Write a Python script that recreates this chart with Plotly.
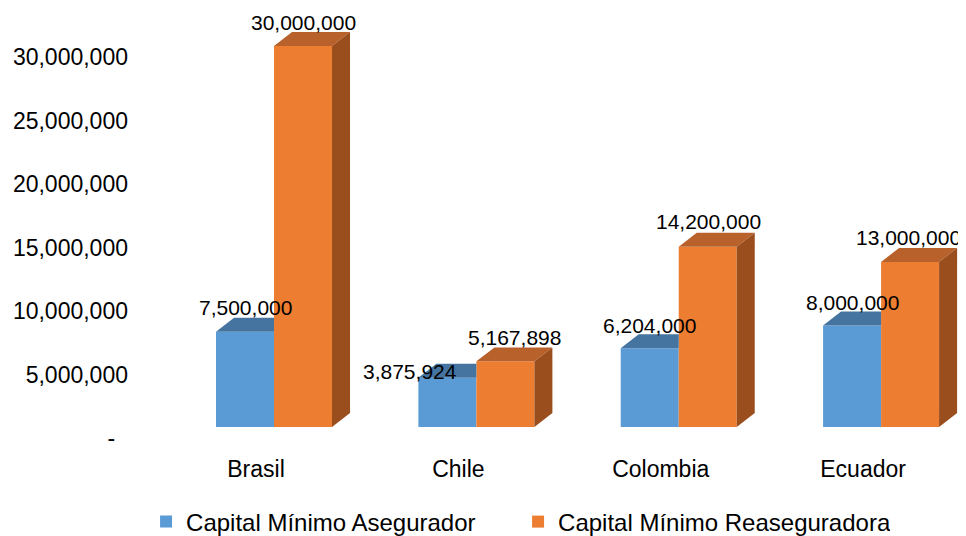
import plotly.graph_objects as go

# ---- data ----
countries = ["Brasil", "Chile", "Colombia", "Ecuador"]
asegurador = [7500000, 3875924, 6204000, 8000000]
reaseguradora = [30000000, 5167898, 14200000, 13000000]
series_names = ["Capital Mínimo Asegurador", "Capital Mínimo Reaseguradora"]
y_tickvals = [0, 5000000, 10000000, 15000000, 20000000, 25000000, 30000000]
y_ticktext = ["-\u00a0\u00a0", "5,000,000", "10,000,000", "15,000,000",
              "20,000,000", "25,000,000", "30,000,000"]

# ---- styling ----
BLUE, BLUE_TOP = "#5B9BD5", "#44749F"
ORANGE, ORANGE_TOP, ORANGE_SIDE = "#ED7D31", "#B8612A", "#9A4E1E"
FONT = "Liberation Sans, Arial, sans-serif"
BARGAP = 0.4267
HALF = (1 - BARGAP) / 2          # width of one bar in category units
DX = 0.089                       # depth offset (category units)
DY = 1100000                     # depth offset (value units)

xpos = list(range(len(countries)))

fig = go.Figure()
fig.add_trace(go.Bar(x=xpos, y=asegurador, name=series_names[0],
                     marker=dict(color=BLUE, line=dict(width=0)), hoverinfo="skip"))
fig.add_trace(go.Bar(x=xpos, y=reaseguradora, name=series_names[1],
                     marker=dict(color=ORANGE, line=dict(width=0)), hoverinfo="skip"))

def poly(xs, ys, color):
    fig.add_trace(go.Scatter(x=xs + [xs[0]], y=ys + [ys[0]], mode="lines",
                             line=dict(width=0, color=color), fill="toself",
                             fillcolor=color, showlegend=False, hoverinfo="skip"))

for i, (a, r) in enumerate(zip(asegurador, reaseguradora)):
    bl = i - HALF            # blue left
    mid = i                  # boundary between bars
    orr = i + HALF           # orange right
    # blue top face (clipped at orange front)
    poly([bl, mid, mid, bl + DX], [a, a, a + DY, a + DY], BLUE_TOP)
    # orange top face
    poly([mid, orr, orr + DX, mid + DX], [r, r, r + DY, r + DY], ORANGE_TOP)
    # orange side face
    poly([orr, orr, orr + DX, orr + DX], [0, r, r + DY, DY], ORANGE_SIDE)

# data labels
blue_shift = [(0, 24), (-37, 6), (0, 23), (0, 23)]
orange_shift = [(0, 24), (9, 24), (1, 25), (-2, 24)]
for i, (a, r) in enumerate(zip(asegurador, reaseguradora)):
    for val, off, sh in ((a, -HALF / 2, blue_shift[i]), (r, HALF / 2, orange_shift[i])):
        fig.add_annotation(x=i + off, y=val, xref="x", yref="y",
                           text=f"{val:,}", showarrow=False,
                           xshift=sh[0], yshift=sh[1], yanchor="middle",
                           font=dict(family=FONT, size=21, color="#000000"))

fig.update_layout(
    width=958, height=528,
    margin=dict(l=127, r=6, t=12, b=96, autoexpand=False),
    paper_bgcolor="white", plot_bgcolor="white",
    barmode="group", bargap=BARGAP, bargroupgap=0,
    font=dict(family=FONT, color="#000000"),
    legend=dict(orientation="h", x=0.0134, xanchor="left",
                yref="container", y=0.0265, yanchor="middle",
                font=dict(family=FONT, size=24, color="#000000"),
                itemwidth=30, entrywidth=327, entrywidthmode="pixels",
                traceorder="normal"),
    showlegend=True,
)
fig.update_xaxes(range=[-0.687, 3.39], tickvals=xpos, ticktext=countries,
                 showgrid=False, zeroline=False, showline=False, ticks="",
                 automargin=False,
                 ticklabelshift=-18, ticklabelstandoff=13,
                 tickfont=dict(family=FONT, size=23, color="#000000"))
fig.update_yaxes(range=[-1024000, 32050000], tickvals=y_tickvals, ticktext=y_ticktext,
                 showgrid=False, zeroline=False, showline=False, ticks="",
                 automargin=False,
                 ticklabelshift=11, ticklabelstandoff=6,
                 tickfont=dict(family=FONT, size=23, color="#000000"))

fig.write_html("out.html")
